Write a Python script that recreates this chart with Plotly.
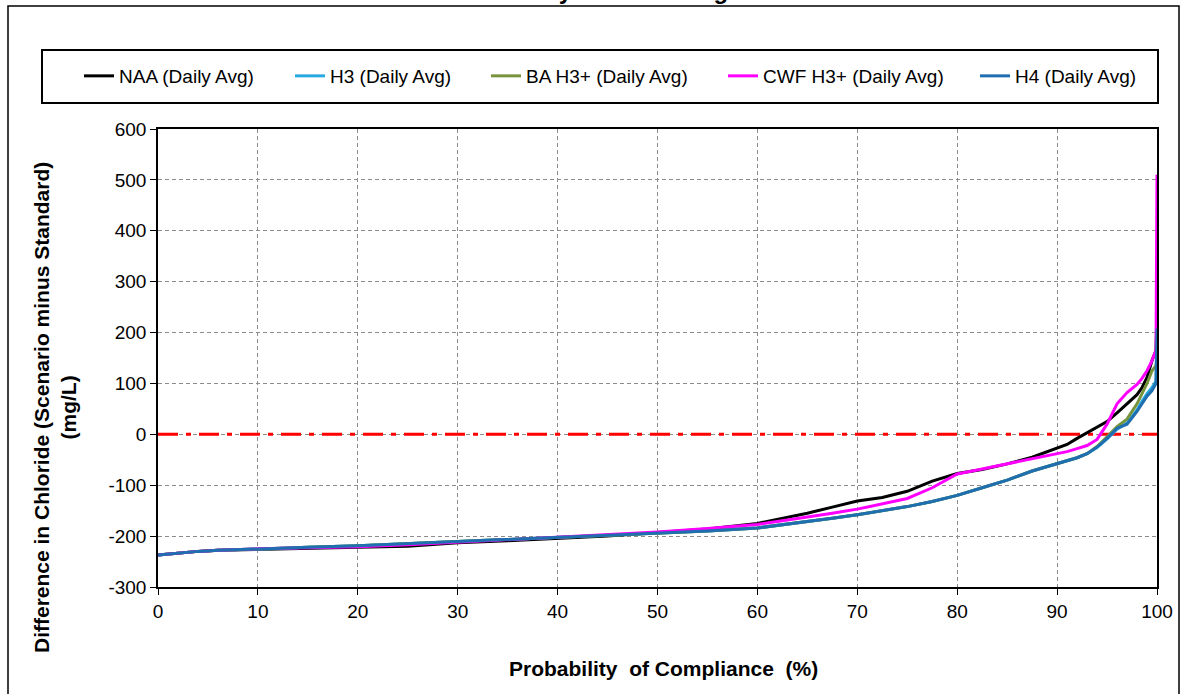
import plotly.graph_objects as go

# ---------------- data ----------------
prob = [0, 1, 2, 4, 6, 10, 15, 20, 25, 30, 35, 40, 45, 50, 55, 60, 62.5, 65, 67.5, 70,
        72.5, 75, 77.5, 80, 82.5, 85, 87.5, 90, 91, 92, 93, 94, 95, 96, 97, 98, 98.5,
        99, 99.5, 99.9, 100]

naa = [-237, -235, -233, -230, -228, -226, -224, -222, -220, -213, -209, -204, -200, -193,
       -186, -175, -165, -155, -143, -131, -124, -112, -92, -77, -69, -58, -45, -28, -20,
       -8, 3, 15, 25, 42, 60, 78, 92, 112, 145, 165, 240]

h3 = [-237, -235, -233, -230, -228, -225, -222, -219, -215, -211, -207, -203, -199, -195,
      -190, -184, -178, -171, -165, -158, -150, -142, -132, -120, -105, -90, -72, -58, -53,
      -46, -38, -26, -9, 10, 22, 48, 65, 80, 92, 105, 200]

ba_h3p = [-237, -235, -233, -230, -228, -225, -222, -219, -215, -211, -207, -203, -199, -195,
          -190, -184, -178, -171, -165, -158, -150, -142, -132, -120, -105, -90, -72, -58, -53,
          -46, -38, -24, -5, 15, 30, 60, 80, 100, 125, 135, 145]

cwf_h3p = [-237, -235, -233, -230, -228, -225, -223, -221, -217, -212, -207, -203, -198, -192,
           -185, -177, -170, -163, -155, -147, -137, -126, -105, -78, -68, -58, -48, -38, -34,
           -28, -22, -10, 20, 60, 82, 98, 110, 125, 145, 165, 510]

h4 = [-237, -235, -233, -230, -228, -225, -222, -219, -215, -211, -207, -203, -199, -195,
      -190, -184, -178, -171, -165, -158, -150, -142, -132, -120, -105, -90, -72, -58, -53,
      -46, -38, -25, -8, 12, 20, 45, 60, 75, 86, 100, 208]

series_names = ["NAA (Daily Avg)", "H3 (Daily Avg)", "BA H3+ (Daily Avg)",
                "CWF H3+ (Daily Avg)", "H4 (Daily Avg)"]
series_values = [naa, h3, ba_h3p, cwf_h3p, h4]
series_colors = ["#000000", "#29A9E1", "#77933C", "#FF00FF", "#1F6FB0"]

standard_x = [0, 100]
standard_y = [0, 0]

x_ticks = [0, 10, 20, 30, 40, 50, 60, 70, 80, 90, 100]
y_ticks = [-300, -200, -100, 0, 100, 200, 300, 400, 500, 600]
x_tick_labels = ["0", "10", "20", "30", "40", "50", "60", "70", "80", "90", "100"]
y_tick_labels = ["-300", "-200", "-100", "0", "100", "200", "300", "400", "500", "600"]

title_text = "Chloride Probability of Exceeding Standard"
x_title = "Probability&nbsp;&nbsp;of Compliance&nbsp;&nbsp;(%)"
y_title = "Difference in Chloride (Scenario minus Standard)<br>(mg/L)"

# ---------------- layout geometry (pixels) ----------------
W, H = 1193, 694
L, R, T, B = 158, 1157, 129, 587


def px_x(p):
    return (p - L) / (R - L)


def px_y(p):
    return (B - p) / (B - T)


FONT = "Liberation Sans, Arial, sans-serif"

fig = go.Figure()

# red dash-dot standard line
fig.add_trace(go.Scatter(x=standard_x, y=standard_y, mode="lines",
                         line=dict(color="#FF0000", width=3, dash="20px,8px,5px,8px"),
                         showlegend=False, hoverinfo="skip"))

legend_text_left = [119, 330, 526, 763, 1015]
for i, (name, vals, col) in enumerate(zip(series_names, series_values, series_colors)):
    lg = "legend" if i == 0 else f"legend{i+1}"
    fig.add_trace(go.Scatter(x=prob, y=vals, mode="lines", name=name,
                             line=dict(color=col, width=3), legend=lg))

legend_cfg = {}
for i, tl in enumerate(legend_text_left):
    key = "legend" if i == 0 else f"legend{i+1}"
    legend_cfg[key] = dict(x=px_x(tl - 40), xanchor="left", y=px_y(76), yanchor="middle",
                           orientation="h", bgcolor="rgba(0,0,0,0)", borderwidth=0,
                           font=dict(family=FONT, size=19, color="#000000"))

fig.update_layout(
    width=W, height=H,
    margin=dict(l=L, r=W - R, t=T, b=H - B, pad=0),
    paper_bgcolor="white", plot_bgcolor="white",
    font=dict(family=FONT, color="#000000"),
    xaxis=dict(range=[0, 100], tickvals=x_ticks, ticktext=x_tick_labels, showgrid=True,
               gridcolor="#8C8C8C", griddash="4px,3px", gridwidth=1, showline=True,
               linecolor="#000000", linewidth=1.5, mirror=True, ticks="outside", ticklen=6,
               tickcolor="#000000", tickfont=dict(size=19, family=FONT), zeroline=False,
               fixedrange=True),
    yaxis=dict(range=[-300, 600], tickvals=y_ticks, ticktext=y_tick_labels, showgrid=True,
               gridcolor="#8C8C8C", griddash="4px,3px", gridwidth=1, showline=True,
               linecolor="#000000", linewidth=1.5, mirror=True, ticks="outside", ticklen=6,
               tickcolor="#000000", tickfont=dict(size=19, family=FONT), zeroline=False,
               fixedrange=True),
    showlegend=True,
    **legend_cfg,
)

# outer chart frame and legend box
fig.add_shape(type="rect", xref="paper", yref="paper",
              x0=px_x(8), x1=px_x(1179), y0=px_y(720), y1=px_y(6),
              line=dict(color="#000000", width=1.5), fillcolor="rgba(0,0,0,0)", layer="above")
fig.add_shape(type="rect", xref="paper", yref="paper",
              x0=px_x(42), x1=px_x(1158), y0=px_y(103), y1=px_y(50),
              line=dict(color="#000000", width=2), fillcolor="rgba(0,0,0,0)", layer="above")

# title (clipped at top, as in the reference)
fig.add_annotation(text=f"<b>{title_text}</b>", xref="paper", yref="paper",
                   x=px_x(591), y=px_y(6), xanchor="center", yanchor="bottom",
                   showarrow=False, font=dict(size=24, family=FONT))

# axis titles
fig.add_annotation(text=f"<b>{x_title}</b>", xref="paper", yref="paper",
                   x=px_x(663), y=px_y(668), xanchor="center", yanchor="middle",
                   showarrow=False, font=dict(size=21, family=FONT))
fig.add_annotation(text=f"<b>{y_title}</b>", xref="paper", yref="paper",
                   x=px_x(55), y=px_y(408), xanchor="center", yanchor="middle",
                   textangle=-90, showarrow=False, font=dict(size=21, family=FONT))

fig.write_html("out.html", config={"displayModeBar": False},
               post_script="document.body.style.margin='0';")
